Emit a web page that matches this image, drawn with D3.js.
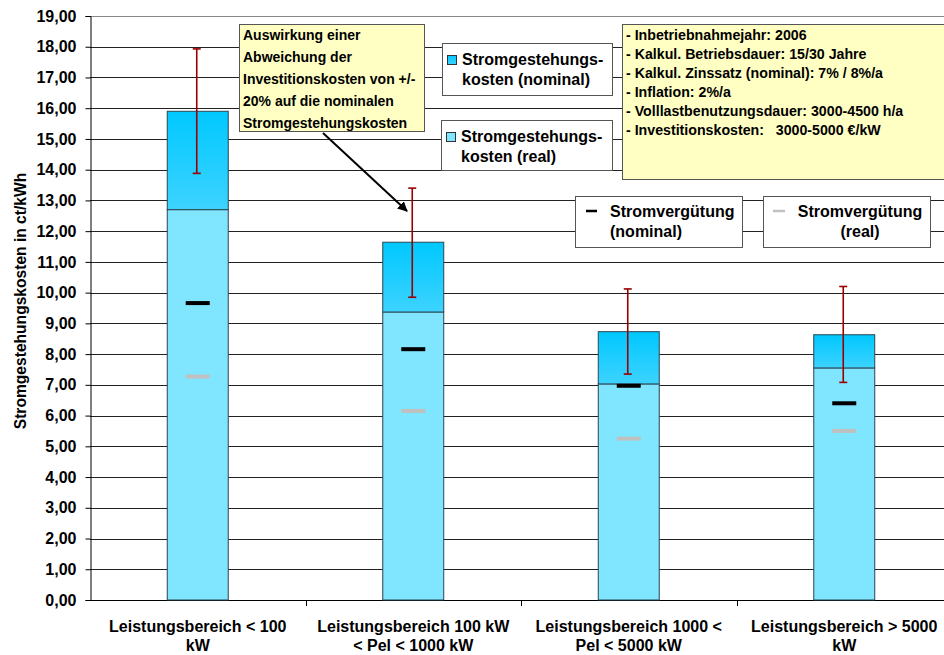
<!DOCTYPE html>
<html>
<head>
<meta charset="utf-8">
<script src="https://cdn.jsdelivr.net/npm/d3@7"></script>
<style>
  body { margin: 0; background: #fff; }
  svg { display: block; font-family: "Liberation Sans", Arial, sans-serif; font-weight: bold; }
</style>
</head>
<body>
<svg id="chart" width="944" height="655"></svg>
<script>
// categories (two lines per tick label)
var categories = ["k1", "k2", "k3", "k4"];
var catLabels = [
    ["Leistungsbereich < 100", "kW"],
    ["Leistungsbereich 100 kW", "< Pel < 1000 kW"],
    ["Leistungsbereich 1000 <", "Pel < 5000 kW"],
    ["Leistungsbereich > 5000", "kW"]
];

// values in ct/kWh
var costReal = [12.70, 9.37, 7.03, 7.55];
var costNominal = [15.90, 11.64, 8.73, 8.63];
var errHigh = [17.93, 13.40, 10.12, 10.20];
var errLow = [13.88, 9.85, 7.35, 7.08];
var feedNominal = [9.66, 8.16, 6.97, 6.40];
var feedReal = [7.27, 6.15, 5.25, 5.50];

var yTicks = d3.range(0, 20);

var infoLines = [
    "- Inbetriebnahmejahr: 2006",
    "- Kalkul. Betriebsdauer: 15/30 Jahre",
    "- Kalkul. Zinssatz (nominal): 7% / 8%/a",
    "- Inflation: 2%/a",
    "- Volllastbenutzungsdauer: 3000-4500 h/a",
    "- Investitionskosten:   3000-5000 \u20ac/kW"
];
var noteLines = [
    "Auswirkung einer",
    "Abweichung der",
    "Investitionskosten von +/-",
    "20% auf die nominalen",
    "Stromgestehungskosten"
];

var svg = d3.select("#chart");
var plotL = 90, plotR = 952, plotT = 16, plotB = 600;

var x = d3.scaleBand().domain(categories).range([plotL, plotR]).padding(0);
var y = d3.scaleLinear().domain([0, 19]).range([plotB, plotT]);
var barW = x.bandwidth() * 0.283;

// gradient for the nominal part
var defs = svg.append("defs");
var grad = defs.append("linearGradient").attr("id", "nomGrad")
    .attr("x1", 0).attr("y1", 0).attr("x2", 0).attr("y2", 1);
grad.append("stop").attr("offset", "0%").attr("stop-color", "#00c8ff");
grad.append("stop").attr("offset", "100%").attr("stop-color", "#3dd3ff");

defs.append("marker").attr("id", "arrow")
    .attr("viewBox", "0 0 10 10").attr("refX", 9).attr("refY", 5)
    .attr("markerWidth", 5).attr("markerHeight", 5).attr("orient", "auto")
    .append("path").attr("d", "M0,0 L10,5 L0,10 z").attr("fill", "#000");

// gridlines
svg.append("g").selectAll("line")
    .data(yTicks.filter(function (d) { return d > 0; }))
    .enter().append("line")
    .attr("x1", plotL).attr("x2", plotR)
    .attr("y1", function (d) { return Math.round(y(d)) + 0.5; })
    .attr("y2", function (d) { return Math.round(y(d)) + 0.5; })
    .attr("stroke", function (d) { return d === 19 ? "#888" : "#222"; })
    .attr("stroke-width", 1);

// y axis
var yAxis = d3.axisLeft(y).tickValues(yTicks).tickSize(5).tickPadding(9)
    .tickFormat(function (d) { return d3.format(".2f")(d).replace(".", ","); });
var gy = svg.append("g").attr("transform", "translate(" + (plotL + 0.5) + ",0)").call(yAxis);
gy.select(".domain").attr("stroke", "#000");
gy.selectAll(".tick line").attr("stroke", "#000");
gy.selectAll(".tick text").attr("font-size", 16).attr("fill", "#000")
    .attr("font-family", "Liberation Sans, Arial, sans-serif").attr("font-weight", "bold");

// x axis line and ticks at band borders
svg.append("line").attr("x1", plotL).attr("x2", plotR)
    .attr("y1", plotB + 0.5).attr("y2", plotB + 0.5).attr("stroke", "#000");
svg.append("g").selectAll("line")
    .data(categories.slice(1))
    .enter().append("line")
    .attr("x1", function (d) { return Math.round(x(d)) + 0.5; })
    .attr("x2", function (d) { return Math.round(x(d)) + 0.5; })
    .attr("y1", plotB).attr("y2", plotB + 6)
    .attr("stroke", "#000");

// x labels
var xl = svg.append("g").selectAll("text")
    .data(categories)
    .enter().append("text")
    .attr("text-anchor", "middle")
    .attr("font-size", 16)
    .attr("fill", "#000");
xl.each(function (d, i) {
    var t = d3.select(this);
    catLabels[i].forEach(function (s, j) {
        t.append("tspan")
            .attr("x", x(d) + x.bandwidth() / 2)
            .attr("y", 632 + j * 19)
            .text(s);
    });
});

// y title
svg.append("text")
    .attr("transform", "translate(26,301) rotate(-90)")
    .attr("text-anchor", "middle")
    .attr("font-size", 15.6)
    .text("Stromgestehungskosten in ct/kWh");

// bars
var bars = svg.append("g");
bars.selectAll("rect.real")
    .data(categories)
    .enter().append("rect").attr("class", "real")
    .attr("x", function (d) { return x(d) + (x.bandwidth() - barW) / 2; })
    .attr("width", barW)
    .attr("y", function (d, i) { return y(costReal[i]); })
    .attr("height", function (d, i) { return y(0) - y(costReal[i]); })
    .attr("fill", "#80e5ff")
    .attr("stroke", "#2b4550").attr("stroke-width", 1);

bars.selectAll("rect.nom")
    .data(categories)
    .enter().append("rect").attr("class", "nom")
    .attr("x", function (d) { return x(d) + (x.bandwidth() - barW) / 2; })
    .attr("width", barW)
    .attr("y", function (d, i) { return y(costNominal[i]); })
    .attr("height", function (d, i) { return y(costReal[i]) - y(costNominal[i]); })
    .attr("fill", "url(#nomGrad)")
    .attr("stroke", "#2b4550").attr("stroke-width", 1);

// feed-in tariff markers
function cx(i) { return x(categories[i]) + x.bandwidth() / 2; }
bars.selectAll("rect.fn")
    .data(feedNominal)
    .enter().append("rect")
    .attr("x", function (d, i) { return cx(i) - 12; })
    .attr("y", function (d) { return y(d) - 2; })
    .attr("width", 24).attr("height", 4)
    .attr("fill", "#000");
bars.selectAll("rect.fr")
    .data(feedReal)
    .enter().append("rect")
    .attr("x", function (d, i) { return cx(i) - 12; })
    .attr("y", function (d) { return y(d) - 2; })
    .attr("width", 24).attr("height", 4)
    .attr("fill", "#c0c0c0");

// error bars
var eb = svg.append("g").attr("stroke", "#990000").attr("stroke-width", 1.6);
categories.forEach(function (d, i) {
    var c = cx(i) - 1;
    eb.append("line").attr("x1", c).attr("x2", c).attr("y1", y(errHigh[i])).attr("y2", y(errLow[i]));
    eb.append("line").attr("x1", c - 4).attr("x2", c + 4).attr("y1", y(errHigh[i])).attr("y2", y(errHigh[i]));
    eb.append("line").attr("x1", c - 4).attr("x2", c + 4).attr("y1", y(errLow[i])).attr("y2", y(errLow[i]));
});

// note box with arrow
svg.append("rect").attr("x", 239.5).attr("y", 24.5).attr("width", 185).attr("height", 107)
    .attr("fill", "#ffffc4").attr("stroke", "#555");
svg.append("g").selectAll("text")
    .data(noteLines)
    .enter().append("text")
    .attr("x", 243).attr("y", function (d, i) { return 40 + i * 22; })
    .attr("font-size", 14)
    .text(function (d) { return d; });
svg.append("line").attr("x1", 323).attr("y1", 133).attr("x2", 407).attr("y2", 211)
    .attr("stroke", "#000").attr("stroke-width", 2).attr("marker-end", "url(#arrow)");

// info box
svg.append("rect").attr("x", 622.5).attr("y", 24.5).attr("width", 340).attr("height", 155)
    .attr("fill", "#ffffc4").attr("stroke", "#555");
svg.append("g").selectAll("text")
    .data(infoLines)
    .enter().append("text")
    .attr("x", 626).attr("y", function (d, i) { return 40 + i * 18.9; })
    .attr("font-size", 14.2)
    .attr("xml:space", "preserve")
    .style("white-space", "pre")
    .text(function (d) { return d; });

// legend boxes for cost series
function legendBox(bx, by, bw, bh, fill, lines) {
    svg.append("rect").attr("x", bx + 0.5).attr("y", by + 0.5).attr("width", bw).attr("height", bh)
        .attr("fill", "#fff").attr("stroke", "#555");
    svg.append("rect").attr("x", bx + 5.5).attr("y", by + 12.5).attr("width", 9).attr("height", 9)
        .attr("fill", fill).attr("stroke", "#333");
    lines.forEach(function (s, j) {
        svg.append("text").attr("x", bx + 20).attr("y", by + 22 + j * 20)
            .attr("font-size", 16).text(s);
    });
}
legendBox(442, 43, 170, 52, "url(#nomGrad)", ["Stromgestehungs-", "kosten (nominal)"]);
legendBox(441, 120, 171, 50, "#80e5ff", ["Stromgestehungs-", "kosten (real)"]);

// legend boxes for feed-in tariff
svg.append("rect").attr("x", 575.5).attr("y", 196.5).attr("width", 167).attr("height", 51)
    .attr("fill", "#fff").attr("stroke", "#555");
svg.append("line").attr("x1", 586).attr("x2", 597).attr("y1", 211).attr("y2", 211)
    .attr("stroke", "#000").attr("stroke-width", 2.5);
svg.append("text").attr("x", 610).attr("y", 217).attr("font-size", 16).text("Stromvergütung");
svg.append("text").attr("x", 610).attr("y", 237).attr("font-size", 16).text("(nominal)");

svg.append("rect").attr("x", 763.5).attr("y", 196.5).attr("width", 167).attr("height", 51)
    .attr("fill", "#fff").attr("stroke", "#555");
svg.append("line").attr("x1", 773).attr("x2", 785).attr("y1", 211).attr("y2", 211)
    .attr("stroke", "#c0c0c0").attr("stroke-width", 2.5);
svg.append("text").attr("x", 860).attr("y", 217).attr("text-anchor", "middle").attr("font-size", 16).text("Stromvergütung");
svg.append("text").attr("x", 860).attr("y", 237).attr("text-anchor", "middle").attr("font-size", 16).text("(real)");
</script>
</body>
</html>
